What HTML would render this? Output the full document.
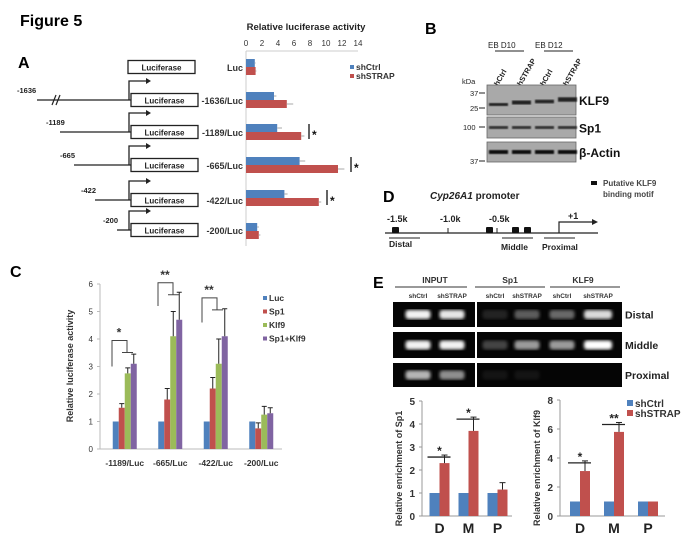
<!DOCTYPE html>
<html><head><meta charset="utf-8"><style>
html,body{margin:0;padding:0;background:#fff}
svg{display:block;font-family:"Liberation Sans",sans-serif}
.b{font-weight:bold}
</style></head><body>
<svg id="fig" width="681" height="546" viewBox="0 0 681 546" xmlns="http://www.w3.org/2000/svg">
<defs>
<filter id="blur1"><feGaussianBlur stdDeviation="1.6"/></filter>
<filter id="blur2"><feGaussianBlur stdDeviation="0.8"/></filter>
</defs>
<text x="20" y="26" font-size="16" class="b">Figure 5</text>
<text x="18" y="68" font-size="16" class="b">A</text>
<text x="425" y="34" font-size="16" class="b">B</text>
<text x="10" y="277" font-size="16" class="b">C</text>
<text x="383" y="202" font-size="16" class="b">D</text>
<text x="373" y="288" font-size="16" class="b">E</text>

<g id="constructs"></g>
<g id="chartA"></g>
<g id="panelB"></g>
<g id="panelD"></g>
<g id="chartC"></g>
<g id="gel"></g>
<g id="chartE1"></g>
<g id="chartE2"></g>
</svg>
<script>
// ===== Panel A data =====
const aCategories = ["Luc","-1636/Luc","-1189/Luc","-665/Luc","-422/Luc","-200/Luc"];
const aShCtrl = [1.1, 3.5, 3.9, 6.7, 4.8, 1.4];
const aShSTRAP = [1.2, 5.1, 6.9, 11.5, 9.1, 1.6];
const aErrCtrl = [0.1, 0.3, 0.6, 0.7, 0.4, 0.2];
const aErrSTRAP = [0.1, 0.8, 0.4, 0.8, 0.3, 0.2];
const aTicks = [0,2,4,6,8,10,12,14];
// ===== Panel C data =====
const cCategories = ["-1189/Luc","-665/Luc","-422/Luc","-200/Luc"];
const cSeriesNames = ["Luc","Sp1","Klf9","Sp1+Klf9"];
const cLuc = [1, 1, 1, 1];
const cSp1 = [1.5, 1.8, 2.2, 0.75];
const cKlf9 = [2.75, 4.1, 3.1, 1.25];
const cSp1Klf9 = [3.1, 4.7, 4.1, 1.3];
const cErrLuc = [0, 0, 0, 0];
const cErrSp1 = [0.15, 0.4, 0.4, 0.2];
const cErrKlf9 = [0.2, 0.9, 0.9, 0.3];
const cErrSp1Klf9 = [0.35, 1.0, 1.0, 0.2];
const cTicks = [0,1,2,3,4,5,6];
// ===== Panel E data =====
const eCategories = ["D","M","P"];
const e1Ctrl = [1, 1, 1];
const e1STRAP = [2.3, 3.7, 1.15];
const e1ErrSTRAP = [0.35, 0.6, 0.3];
const e1Ticks = [0,1,2,3,4,5];
const e2Ctrl = [1, 1, 1];
const e2STRAP = [3.1, 5.8, 1.0];
const e2ErrSTRAP = [0.7, 0.65, 0];
const e2Ticks = [0,2,4,6,8];

const NS="http://www.w3.org/2000/svg";
const BLUE="#4f81bd",RED="#c0504d",GREEN="#9bbb59",PURPLE="#8064a2";
function mk(parent,tag,attrs,text){const e=document.createElementNS(NS,tag);for(const k in attrs)e.setAttribute(k,attrs[k]);if(text!==undefined)e.textContent=text;parent.appendChild(e);return e;}

// ---------- Panel A constructs ----------
(function(){
  const g=document.getElementById('constructs');
  const rows=[67,100,132,165,200,230];
  const starts=[null,37,60,74,95,117];
  const nums=[null,"-1636","-1189","-665","-422","-200"];
  rows.forEach((y,i)=>{
    const bx=i==0?128:131;
    const box=mk(g,'rect',{x:bx,y:y-6.5,width:67,height:13,fill:'#fff',stroke:'#222','stroke-width':1.3});
    
    
    const t=mk(g,'text',{x:bx+33.5,y:y+3.5,'font-size':8,'text-anchor':'middle','font-weight':'bold',fill:'#222'},'Luciferase');
    
    
    const lb=mk(g,'text',{x:243,y:y+4,'font-size':9,'text-anchor':'end','font-weight':'bold',fill:'#333'},aCategories[i]);
    
    
    if(i>0){
      mk(g,'line',{x1:starts[i],y1:y,x2:bx,y2:y,stroke:'#222','stroke-width':1.3});
      mk(g,'polyline',{points:`${bx-2},${y} ${bx-2},${y-19} ${bx+18},${y-19}`,fill:'none',stroke:'#222','stroke-width':1.3});
      mk(g,'polygon',{points:`${bx+20},${y-19} ${bx+15},${y-22} ${bx+15},${y-16}`,fill:'#222'});
      const n=mk(g,'text',{x:starts[i]-14+(i==1?-6:0),y:y-7,'font-size':7.5,'font-weight':'bold',fill:'#222'},nums[i]);
      
      
    }
  });
  mk(g,'line',{x1:52,y1:105,x2:56,y2:95,stroke:'#222','stroke-width':1.2});
  mk(g,'line',{x1:56,y1:105,x2:60,y2:95,stroke:'#222','stroke-width':1.2});
})();

// ---------- Panel A chart ----------
(function(){
  const g=document.getElementById('chartA');
  const x0=246, ppu=8;
  const X=v=>x0+v*ppu;
  const rows=[67,100,132,165,198,231];
  const t=mk(g,'text',{x:306,y:30,'font-size':9.5,'font-weight':'bold','text-anchor':'middle',fill:'#222'},'Relative luciferase activity');
  
  
  aTicks.forEach(v=>{
    const tk=mk(g,'text',{x:X(v),y:46,'font-size':8,'text-anchor':'middle',fill:'#333'},v);
    
    
  });
  mk(g,'line',{x1:X(0),y1:51,x2:X(14),y2:51,stroke:'#ccc','stroke-width':1});
  mk(g,'line',{x1:X(0),y1:51,x2:X(0),y2:246,stroke:'#ccc','stroke-width':1});
  aCategories.forEach((c,i)=>{
    const y=rows[i];
    const b1=mk(g,'rect',{x:X(0),y:y-8,width:aShCtrl[i]*ppu,height:8,fill:BLUE});
    
    
    const b2=mk(g,'rect',{x:X(0),y:y,width:aShSTRAP[i]*ppu,height:8,fill:RED});
    
    
    mk(g,'line',{x1:X(aShCtrl[i]),y1:y-4,x2:X(aShCtrl[i]+aErrCtrl[i]),y2:y-4,stroke:'#aaa'});
    mk(g,'line',{x1:X(aShSTRAP[i]),y1:y+4,x2:X(aShSTRAP[i]+aErrSTRAP[i]),y2:y+4,stroke:'#aaa'});
  });
  [[2,309],[3,351],[4,327]].forEach(([i,x])=>{
    const y=rows[i];
    mk(g,'line',{x1:x,y1:y-8,x2:x,y2:y+7,stroke:'#111','stroke-width':1.3});
    const s=mk(g,'text',{x:x+3,y:y+7,'font-size':12,'font-weight':'bold',fill:'#111'},'*');
    
    
  });
  mk(g,'rect',{x:350,y:65,width:4,height:4,fill:BLUE});
  const l1=mk(g,'text',{x:356,y:70,'font-size':8.5,'font-weight':'bold',fill:'#333'},'shCtrl');
  
  
  mk(g,'rect',{x:350,y:74,width:4,height:4,fill:RED});
  const l2=mk(g,'text',{x:356,y:79,'font-size':8.5,'font-weight':'bold',fill:'#333'},'shSTRAP');
  
  
})();

// ---------- Panel B ----------
(function(){
  const g=document.getElementById('panelB');
  mk(g,'text',{x:488,y:48,'font-size':8,fill:'#222'},'EB  D10');
  mk(g,'text',{x:535,y:48,'font-size':8,fill:'#222'},'EB  D12');
  mk(g,'line',{x1:495,y1:51,x2:524,y2:51,stroke:'#222'});
  mk(g,'line',{x1:544,y1:51,x2:573,y2:51,stroke:'#222'});
  const lanes=[496,519,542,565];
  const names=['shCtrl','shSTRAP','shCtrl','shSTRAP'];
  lanes.forEach((x,i)=>{
    const t=mk(g,'text',{x:x,y:90,'font-size':7.5,'font-weight':'bold',fill:'#222',transform:`rotate(-60 ${x} 90)`},names[i]);
    
    
  });
  mk(g,'text',{x:462,y:84,'font-size':7.5,fill:'#222'},'kDa');
  const boxes=[[85,30,'KLF9'],[117,21,'Sp1'],[142,20,'β-Actin']];
  boxes.forEach(([y,h,lab],bi)=>{
    const r=mk(g,'rect',{x:487,y:y,width:89,height:h,fill:'#a9a9a9',stroke:'#666','stroke-width':0.8});
    
    
    const t=mk(g,'text',{x:579,y:y+h/2+5,'font-size':12,'font-weight':'bold',fill:'#111'},lab);
    
    
  });
  const kl=[[104,2],[102,3],[101,2.5],[99,3.5]];
  lanes.forEach((x,i)=>{
    mk(g,'rect',{x:x-7,y:kl[i][0]-kl[i][1]/2,width:19,height:kl[i][1]+1,fill:'#222',filter:'url(#blur2)'});
    mk(g,'rect',{x:x-7,y:126,width:19,height:3,fill:'#333',filter:'url(#blur2)'});
    mk(g,'rect',{x:x-7,y:150,width:19,height:4,fill:'#111',filter:'url(#blur2)'});
  });
  [[37,93],[25,108],[100,127],[37,161]].forEach(([m,y])=>{
    mk(g,'text',{x:m==100?463:470,y:y+3,'font-size':7.5,fill:'#222'},m);
    mk(g,'line',{x1:479,y1:y,x2:485,y2:y,stroke:'#222'});
  });
})();

// ---------- Panel D ----------
(function(){
  const g=document.getElementById('panelD');
  const t=mk(g,'text',{x:430,y:199,'font-size':10,'font-weight':'bold',fill:'#222'},'');
  mk(t,'tspan',{'font-style':'italic'},'Cyp26A1');
  mk(t,'tspan',{},' promoter');
  
  
  mk(g,'rect',{x:591,y:181,width:6,height:4,fill:'#111'});
  mk(g,'text',{x:603,y:186,'font-size':8,'font-weight':'bold',fill:'#444'},'Putative KLF9');
  mk(g,'text',{x:603,y:197,'font-size':8,'font-weight':'bold',fill:'#444'},'binding motif');
  mk(g,'line',{x1:385,y1:233,x2:598,y2:233,stroke:'#222','stroke-width':1.3});
  [[395,'-1.5k'],[448,'-1.0k'],[497,'-0.5k']].forEach(([x,l])=>{
    mk(g,'line',{x1:x,y1:228,x2:x,y2:233,stroke:'#222'});
    mk(g,'text',{x:x-8,y:222,'font-size':9,'font-weight':'bold',fill:'#222'},l);
  });
  [392,486,512,524].forEach(x=>mk(g,'rect',{x:x,y:227,width:7,height:6,rx:1,fill:'#111'}));
  mk(g,'polyline',{points:'559,233 559,222 594,222',fill:'none',stroke:'#222','stroke-width':1.2});
  mk(g,'polygon',{points:'598,222 592,219 592,225',fill:'#222'});
  mk(g,'text',{x:568,y:219,'font-size':9,'font-weight':'bold',fill:'#222'},'+1');
  mk(g,'line',{x1:389,y1:238,x2:420,y2:238,stroke:'#222'});
  mk(g,'text',{x:389,y:247,'font-size':8.5,'font-weight':'bold',fill:'#222'},'Distal');
  mk(g,'line',{x1:502,y1:238,x2:533,y2:238,stroke:'#222'});
  mk(g,'text',{x:501,y:250,'font-size':8.5,'font-weight':'bold',fill:'#222'},'Middle');
  mk(g,'line',{x1:544,y1:238,x2:575,y2:238,stroke:'#222'});
  mk(g,'text',{x:542,y:250,'font-size':8.5,'font-weight':'bold',fill:'#222'},'Proximal');
})();

// ---------- Panel C chart ----------
(function(){
  const g=document.getElementById('chartC');
  const x0=100,y0=449,ppu=27.5,xEnd=282;
  const Y=v=>y0-v*ppu;
  const groupW=(xEnd-x0)/cCategories.length;
  const bw=6;
  const series=[cLuc,cSp1,cKlf9,cSp1Klf9];
  const errs=[cErrLuc,cErrSp1,cErrKlf9,cErrSp1Klf9];
  const cols=[BLUE,RED,GREEN,PURPLE];
  mk(g,'line',{x1:x0,y1:Y(0),x2:x0,y2:Y(6),stroke:'#bbb'});
  mk(g,'line',{x1:x0,y1:Y(0),x2:xEnd,y2:Y(0),stroke:'#bbb'});
  cTicks.forEach(v=>{
    mk(g,'line',{x1:x0-3,y1:Y(v),x2:x0,y2:Y(v),stroke:'#bbb'});
    const t=mk(g,'text',{x:x0-7,y:Y(v)+3,'font-size':8,'text-anchor':'end',fill:'#333'},v);
    
    
  });
  const yt=mk(g,'text',{x:0,y:0,'font-size':9,'font-weight':'bold','text-anchor':'middle',fill:'#333',transform:`translate(73,366) rotate(-90)`},'Relative luciferase activity');
  
  
  cCategories.forEach((c,gi)=>{
    const cx=x0+groupW*(gi+0.5)+2;
    series.forEach((s,si)=>{
      const bx=cx+(si-2)*bw;
      const r=mk(g,'rect',{x:bx,y:Y(s[gi]),width:bw,height:s[gi]*ppu,fill:cols[si]});
      
      
      if(errs[si][gi]>0){
        const ex=bx+bw/2;
        mk(g,'line',{x1:ex,y1:Y(s[gi]),x2:ex,y2:Y(s[gi]+errs[si][gi]),stroke:'#222'});
        mk(g,'line',{x1:ex-2.5,y1:Y(s[gi]+errs[si][gi]),x2:ex+2.5,y2:Y(s[gi]+errs[si][gi]),stroke:'#222'});
      }
    });
    const t=mk(g,'text',{x:cx,y:466,'font-size':8.5,'font-weight':'bold','text-anchor':'middle',fill:'#333'},c);
    
    
  });
  [[112,3.0,3.8,4.2,'*'],[158,5.2,5.9,6.3,'**'],[202,4.6,5.35,5.5,'**']].forEach(([x,lo,hi,top,st])=>{
    mk(g,'polyline',{points:`${x},${Y(lo)} ${x},${Y(hi)-4} ${x+15},${Y(hi)-4} ${x+15},${Y(hi)+8}`,fill:'none',stroke:'#444'});
    mk(g,'line',{x1:x+10,y1:Y(hi)+8,x2:x+21,y2:Y(hi)+8,stroke:'#444'});
    mk(g,'text',{x:x+7,y:Y(hi)-8,'font-size':12,'font-weight':'bold','text-anchor':'middle',fill:'#333'},st);
  });
  cSeriesNames.forEach((n,i)=>{
    mk(g,'rect',{x:263,y:296+i*13.5,width:4,height:4,fill:cols[i]});
    const t=mk(g,'text',{x:269,y:301+i*13.5,'font-size':8.5,'font-weight':'bold',fill:'#333'},n);
    
    
  });
})();

// ---------- Panel E gel ----------
(function(){
  const g=document.getElementById('gel');
  [[435,'INPUT',395,467],[510,'Sp1',475,545],[583,'KLF9',550,620]].forEach(([x,l,a,b])=>{
    mk(g,'text',{x:x,y:283,'font-size':8.5,'font-weight':'bold','text-anchor':'middle',fill:'#333'},l);
    mk(g,'line',{x1:a,y1:287,x2:b,y2:287,stroke:'#333'});
  });
  [[418,'shCtrl'],[452,'shSTRAP'],[495,'shCtrl'],[527,'shSTRAP'],[562,'shCtrl'],[598,'shSTRAP']].forEach(([x,l])=>{
    mk(g,'text',{x:x,y:298,'font-size':6.5,'font-weight':'bold','text-anchor':'middle',fill:'#333'},l);
  });
  const rows=[[302,25,'Distal'],[332,26,'Middle'],[363,24,'Proximal']];
  const lanesX=[418,452,495,527,562,598];
  const inten=[[0.95,0.9,0.12,0.35,0.4,0.85],[0.95,0.95,0.25,0.6,0.6,1],[0.7,0.55,0.06,0.06,0,0]];
  rows.forEach(([y,h,l],ri)=>{
    mk(g,'rect',{x:393,y:y,width:82,height:h,fill:'#050505'});
    mk(g,'rect',{x:477,y:y,width:145,height:h,fill:'#050505'});
    lanesX.forEach((x,li)=>{
      const a=inten[ri][li]; if(a<=0)return;
      const w=li==5?28:25;
      mk(g,'rect',{x:x-w/2,y:y+h/2-4.5,width:w,height:9,rx:3,fill:'#fff','fill-opacity':a,filter:'url(#blur1)'});
    });
    const t=mk(g,'text',{x:625,y:y+h/2+4,'font-size':10.5,'font-weight':'bold',fill:'#222'},l);
    
    
  });
})();

// ---------- Panel E charts ----------
function eChart(id,x0,y0,yTop,ticks,ctrl,strap,err,sig,title,gw,off){
  const g=document.getElementById(id);
  const maxT=ticks[ticks.length-1];
  const ppu=(y0-yTop)/maxT;
  const Y=v=>y0-v*ppu;
  const xEnd=x0+gw*3+off;
  mk(g,'line',{x1:x0,y1:y0,x2:x0,y2:yTop,stroke:'#999'});
  mk(g,'line',{x1:x0,y1:y0,x2:xEnd,y2:y0,stroke:'#999'});
  ticks.forEach(v=>{
    mk(g,'line',{x1:x0-3,y1:Y(v),x2:x0,y2:Y(v),stroke:'#999'});
    const t=mk(g,'text',{x:x0-7,y:Y(v)+4,'font-size':10,'font-weight':'bold','text-anchor':'end',fill:'#333'},v);
    
    
  });
  const yt=mk(g,'text',{x:0,y:0,'font-size':9,'font-weight':'bold','text-anchor':'middle',fill:'#333',transform:`translate(${x0-20},${(y0+yTop)/2+10}) rotate(-90)`},title);
  
  
  const bw=10;
  eCategories.forEach((c,i)=>{
    const cx=x0+off+gw*(i+0.5);
    const b1=mk(g,'rect',{x:cx-bw,y:Y(ctrl[i]),width:bw,height:ctrl[i]*ppu,fill:BLUE});
    
    
    const b2=mk(g,'rect',{x:cx,y:Y(strap[i]),width:bw,height:strap[i]*ppu,fill:RED});
    
    
    if(err[i]>0){
      mk(g,'line',{x1:cx+bw/2,y1:Y(strap[i]),x2:cx+bw/2,y2:Y(strap[i]+err[i]),stroke:'#222'});
      mk(g,'line',{x1:cx+2,y1:Y(strap[i]+err[i]),x2:cx+bw-2,y2:Y(strap[i]+err[i]),stroke:'#222'});
    }
    if(sig[i]){
      const yy=Y(strap[i]+err[i])+2;
      mk(g,'line',{x1:cx-bw-2,y1:yy,x2:cx+bw+1,y2:yy,stroke:'#222','stroke-width':1.3});
      mk(g,'text',{x:cx,y:yy-2,'font-size':12,'font-weight':'bold','text-anchor':'middle',fill:'#222'},sig[i]);
    }
    const t=mk(g,'text',{x:cx,y:y0+17,'font-size':14,'font-weight':'bold','text-anchor':'middle',fill:'#222'},c);
    
    
  });
}
eChart('chartE1',422,516,401,e1Ticks,e1Ctrl,e1STRAP,e1ErrSTRAP,['*','*',''],'Relative enrichment of Sp1',29,3);
eChart('chartE2',560,516,400,e2Ticks,e2Ctrl,e2STRAP,e2ErrSTRAP,['*','**',''],'Relative enrichment of Klf9',34,3);
(function(){
  const g=document.getElementById('chartE2');
  mk(g,'rect',{x:627,y:400,width:6,height:6,fill:BLUE});
  const a=mk(g,'text',{x:635,y:407,'font-size':10,'font-weight':'bold',fill:'#333'},'shCtrl');
  
  
  mk(g,'rect',{x:627,y:410,width:6,height:6,fill:RED});
  const b=mk(g,'text',{x:635,y:417,'font-size':10,'font-weight':'bold',fill:'#333'},'shSTRAP');
  
  
})();
</script>
</body></html>
